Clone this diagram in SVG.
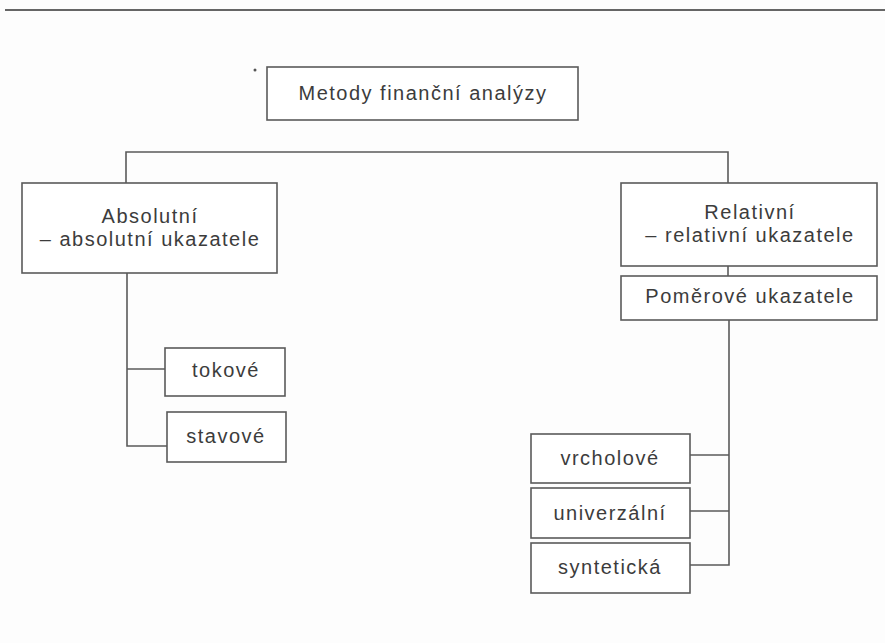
<svg xmlns="http://www.w3.org/2000/svg" width="885" height="643" viewBox="0 0 885 643">
<style>
.box{fill:#ffffff;stroke:#5a5a5a;stroke-width:1.6}
.t{font-family:"Liberation Sans",Arial,sans-serif;font-size:20px;letter-spacing:1.5px;fill:#3c3c3c;text-anchor:middle}
.c{fill:none;stroke:#5a5a5a;stroke-width:1.6}
</style>
<rect x="0" y="0" width="885" height="643" fill="#fdfdfd"/>
<line x1="5" y1="10" x2="885" y2="10" stroke="#666" stroke-width="2"/>
<circle cx="255" cy="70" r="1.5" fill="#555"/>
<g id="connectors">
<polyline class="c" points="126,183 126,152 728,152 728,183"/>
<line class="c" x1="728" y1="266" x2="728" y2="276"/>
<polyline class="c" points="127,273 127,446 167,446"/>
<line class="c" x1="127" y1="369" x2="165" y2="369"/>
<polyline class="c" points="729,320 729,565 690,565"/>
<line class="c" x1="690" y1="455" x2="729" y2="455"/>
<line class="c" x1="690" y1="511" x2="729" y2="511"/>
</g>
<g id="root"><rect class="box" x="267" y="67" width="311" height="53"/><text class="t" x="423" y="100">Metody finanční analýzy</text></g>
<g id="absolutni"><rect class="box" x="22" y="183" width="255" height="90"/><text class="t" x="150" y="223">Absolutní</text><text class="t" x="150" y="246">– absolutní ukazatele</text></g>
<g id="relativni"><rect class="box" x="621" y="183" width="256" height="83"/><text class="t" x="750" y="219">Relativní</text><text class="t" x="750" y="242">– relativní ukazatele</text></g>
<g id="pomerove"><rect class="box" x="621" y="276" width="256" height="44"/><text class="t" x="750" y="303">Poměrové ukazatele</text></g>
<g id="tokove"><rect class="box" x="165" y="348" width="120" height="48"/><text class="t" x="226" y="377">tokové</text></g>
<g id="stavove"><rect class="box" x="167" y="412" width="119" height="50"/><text class="t" x="226" y="443">stavové</text></g>
<g id="vrcholove"><rect class="box" x="531" y="434" width="159" height="49"/><text class="t" x="610" y="465">vrcholové</text></g>
<g id="univerzalni"><rect class="box" x="531" y="488" width="159" height="50"/><text class="t" x="610" y="520">univerzální</text></g>
<g id="synteticka"><rect class="box" x="531" y="543" width="159" height="50"/><text class="t" x="610" y="574">syntetická</text></g>
</svg>
